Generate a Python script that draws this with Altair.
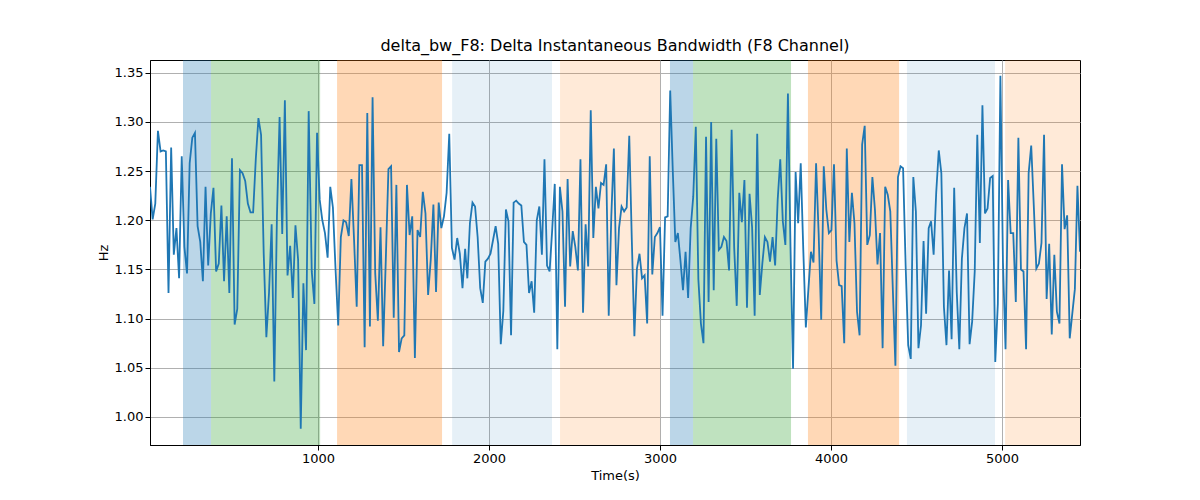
import altair as alt
import pandas as pd

# shaded phases: start, end, colour, opacity
band_start = [210, 374, 1111, 1784, 2415, 3058, 3193, 3865, 4444, 5018]
band_end = [374, 1012, 1725, 2368, 3000, 3193, 3766, 4398, 4959, 5456]
band_color = ['#1f77b4', '#2ca02c', '#ff7f0e', '#1f77b4', '#ff7f0e',
              '#1f77b4', '#2ca02c', '#ff7f0e', '#1f77b4', '#ff7f0e']
band_alpha = [0.3, 0.3, 0.3, 0.11, 0.16, 0.3, 0.3, 0.3, 0.11, 0.16]

seg_t = [(17, 945), (963, 1860), (1873, 2760), (2775, 3673), (3688, 4571), (4585, 5456)]
seg1 = [1.234, 1.201, 1.217, 1.291, 1.270, 1.271, 1.270, 1.126, 1.274, 1.165, 1.192, 1.141,
        1.265, 1.173, 1.146, 1.258, 1.284, 1.289, 1.194, 1.178, 1.138, 1.234, 1.154, 1.207,
        1.233, 1.148, 1.156, 1.215, 1.138, 1.204, 1.126, 1.263, 1.094, 1.110, 1.251, 1.248,
        1.240, 1.217, 1.208, 1.208, 1.262, 1.304, 1.287, 1.166, 1.081, 1.126, 1.196, 1.036,
        1.204, 1.305, 1.186, 1.322, 1.144, 1.174, 1.121, 1.195, 1.160, 0.988, 1.136, 1.068, 1.311]
seg2 = [1.148, 1.115, 1.289, 1.221, 1.200, 1.187, 1.162, 1.234, 1.213, 1.150, 1.093, 1.183,
        1.200, 1.198, 1.184, 1.242, 1.180, 1.112, 1.256, 1.256, 1.071, 1.309, 1.092, 1.325,
        1.146, 1.098, 1.193, 1.072, 1.160, 1.252, 1.255, 1.101, 1.236, 1.066, 1.080, 1.083,
        1.236, 1.185, 1.204, 1.060, 1.190, 1.183, 1.229, 1.207, 1.124, 1.160, 1.216, 1.127,
        1.218, 1.192, 1.204, 1.228, 1.288, 1.172, 1.160, 1.182, 1.166, 1.131, 1.171]
seg3 = [1.141, 1.197, 1.218, 1.214, 1.183, 1.131, 1.116, 1.158, 1.161, 1.166, 1.180, 1.194,
        1.176, 1.074, 1.108, 1.211, 1.199, 1.083, 1.218, 1.220, 1.217, 1.215, 1.178, 1.175,
        1.126, 1.138, 1.106, 1.200, 1.214, 1.165, 1.262, 1.154, 1.148, 1.190, 1.237, 1.069,
        1.234, 1.209, 1.112, 1.242, 1.153, 1.189, 1.173, 1.149, 1.262, 1.106, 1.196, 1.153,
        1.312, 1.182, 1.234, 1.212, 1.238, 1.236, 1.257, 1.103, 1.204, 1.273, 1.134, 1.192]
seg4 = [1.214, 1.209, 1.213, 1.286, 1.180, 1.082, 1.151, 1.166, 1.141, 1.144, 1.095, 1.265,
        1.145, 1.183, 1.187, 1.193, 1.103, 1.203, 1.204, 1.332, 1.251, 1.178, 1.187, 1.159,
        1.129, 1.168, 1.121, 1.192, 1.224, 1.295, 1.140, 1.095, 1.075, 1.285, 1.117, 1.300,
        1.129, 1.283, 1.170, 1.173, 1.183, 1.179, 1.149, 1.292, 1.172, 1.113, 1.228, 1.198,
        1.241, 1.111, 1.227, 1.193, 1.103, 1.288, 1.124, 1.156, 1.183, 1.178, 1.158, 1.183, 1.154]
seg5 = [1.221, 1.262, 1.199, 1.175, 1.329, 1.173, 1.049, 1.249, 1.197, 1.258, 1.170, 1.091,
        1.130, 1.168, 1.157, 1.258, 1.187, 1.099, 1.255, 1.211, 1.187, 1.190, 1.257, 1.159,
        1.134, 1.133, 1.075, 1.273, 1.178, 1.228, 1.197, 1.107, 1.083, 1.277, 1.296, 1.175,
        1.185, 1.244, 1.211, 1.155, 1.187, 1.070, 1.234, 1.226, 1.209, 1.129, 1.052, 1.244,
        1.255, 1.253, 1.154, 1.073, 1.059, 1.244, 1.209, 1.070, 1.093, 1.179, 1.105, 1.192]
seg6 = [1.199, 1.165, 1.228, 1.271, 1.248, 1.112, 1.073, 1.149, 1.079, 1.233, 1.127, 1.069,
        1.161, 1.192, 1.207, 1.074, 1.097, 1.148, 1.287, 1.177, 1.317, 1.207, 1.212, 1.243,
        1.245, 1.056, 1.115, 1.347, 1.157, 1.069, 1.241, 1.187, 1.187, 1.117, 1.284, 1.150,
        1.148, 1.069, 1.248, 1.276, 1.215, 1.151, 1.156, 1.177, 1.287, 1.120, 1.176, 1.084,
        1.165, 1.107, 1.095, 1.257, 1.191, 1.205, 1.080, 1.105, 1.130, 1.235, 1.168]

times, values = [], []
for (t0, t1), seg in zip(seg_t, [seg1, seg2, seg3, seg4, seg5, seg6]):
    n = len(seg)
    times += [t0 + (t1 - t0) * i / (n - 1) for i in range(n)]
    values += seg
df = pd.DataFrame({'t': times, 'v': values})

bands = pd.DataFrame({'s': band_start, 'e': band_end, 'c': band_color, 'a': band_alpha})

x_scale = alt.Scale(domain=[17, 5456], nice=False, zero=False)
y_scale = alt.Scale(domain=[0.9715, 1.363], nice=False, zero=False)

rects = alt.Chart(bands).mark_rect().encode(
    x=alt.X('s:Q', scale=x_scale),
    x2='e:Q',
    y=alt.value(0), y2=alt.value(385),
    color=alt.Color('c:N', scale=None),
    opacity=alt.Opacity('a:Q', scale=None))

line = alt.Chart(df).mark_line(color='#1f77b4', strokeWidth=1.8, clip=True).encode(
    x=alt.X('t:Q', scale=x_scale, title='Time(s)',
            axis=alt.Axis(values=[1000, 2000, 3000, 4000, 5000], format='d')),
    y=alt.Y('v:Q', scale=y_scale, title='Hz',
            axis=alt.Axis(values=[1.0, 1.05, 1.1, 1.15, 1.2, 1.25, 1.3, 1.35], format='.2f')))

chart = (rects + line).properties(
    width=930, height=385,
    autosize=alt.AutoSizeParams(type='none'),
    padding={'left': 142, 'top': 52, 'right': 112, 'bottom': 47},
    title=alt.Title('delta_bw_F8: Delta Instantaneous Bandwidth (F8 Channel)',
                    fontSize=16, fontWeight='normal', font='DejaVu Sans', offset=6)
).configure_axis(
    gridColor='#b0b0b0', gridOpacity=1, domainColor='black', tickColor='black',
    labelFont='DejaVu Sans', titleFont='DejaVu Sans', labelFontSize=13,
    titleFontSize=13, titleFontWeight='normal', labelColor='black'
).configure_view(stroke='black')

chart.save("out.html", embed_options={"renderer": "svg", "actions": False})
